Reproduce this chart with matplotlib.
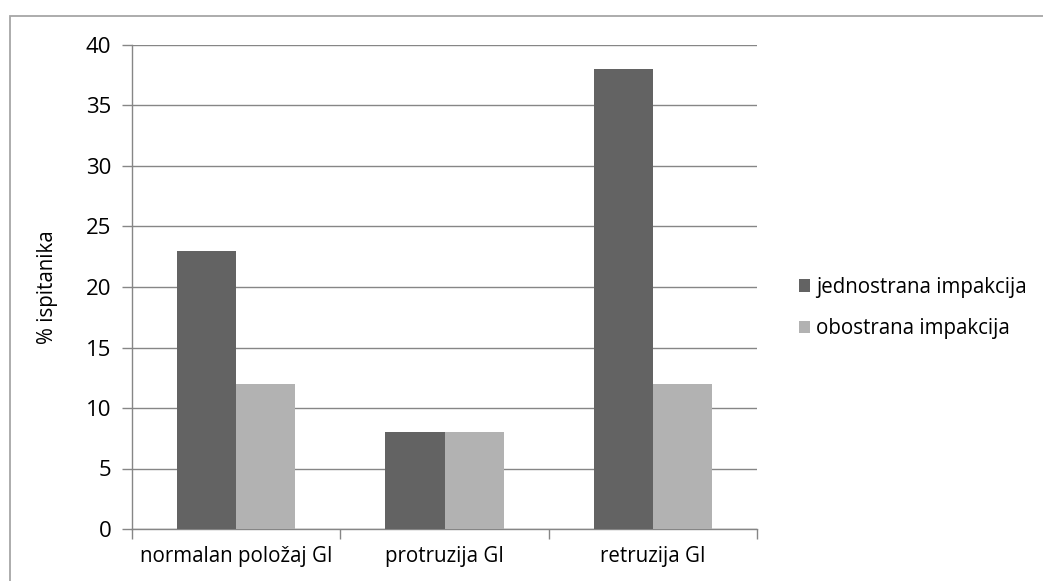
import numpy as np
import matplotlib.pyplot as plt
from matplotlib.patches import Rectangle

categories = ["normalan položaj GI", "protruzija GI", "retruzija GI"]
series_names = ["jednostrana impakcija", "obostrana impakcija"]
jednostrana = [23, 8, 38]
obostrana = [12, 8, 12]
y_ticks = [0, 5, 10, 15, 20, 25, 30, 35, 40]

plt.rcParams['font.family'] = ['Open Sans', 'DejaVu Sans']

W, H = 1043, 581
fig = plt.figure(figsize=(W / 100, H / 100), dpi=100)

# outer chart border (runs off the right and bottom edges)
fig.patches.append(Rectangle((10 / W, -0.1), 1.2, 1 - 16 / H + 0.1,
                             transform=fig.transFigure, fill=False,
                             edgecolor="#a6a6a6", linewidth=1.3))

ax = fig.add_axes([132 / W, 1 - 529 / H, (757 - 132) / W, (529 - 45) / H])

x = np.arange(len(categories))
w = 59 / 208
ax.bar(x - w / 2, jednostrana, width=w, color="#636363", label=series_names[0], zorder=3)
ax.bar(x + w / 2, obostrana, width=w, color="#b2b2b2", label=series_names[1], zorder=3)

ax.set_xlim(-0.5, 2.5)
ax.set_ylim(0, 40)
ax.set_yticks(y_ticks)
ax.set_xticks([-0.5, 0.5, 1.5, 2.5], minor=False)
ax.set_xticklabels([])
ax.set_xticks(x, minor=True)
ax.set_xticklabels(categories, minor=True, fontsize=14.8)
ax.tick_params(axis="x", which="minor", length=0, pad=12)
ax.tick_params(axis="x", which="major", length=7, color="#868686", width=1)
ax.tick_params(axis="y", length=7, color="#868686", width=1, labelsize=16, pad=8)

ax.grid(axis="y", color="#868686", linewidth=1, zorder=0)
for s in ["top", "right"]:
    ax.spines[s].set_visible(False)
for s in ["left", "bottom"]:
    ax.spines[s].set_color("#868686")
    ax.spines[s].set_linewidth(1)

ax.set_ylabel("% ispitanika", fontsize=14.8, labelpad=20)

ax.legend(loc="center left", bbox_to_anchor=(780 / W, 1 - 308 / H),
          bbox_transform=fig.transFigure, frameon=False, fontsize=14.8,
          handlelength=0.55, handleheight=0.55, handletextpad=0.3,
          labelspacing=1.0)

fig.savefig("out.png", dpi=100)
